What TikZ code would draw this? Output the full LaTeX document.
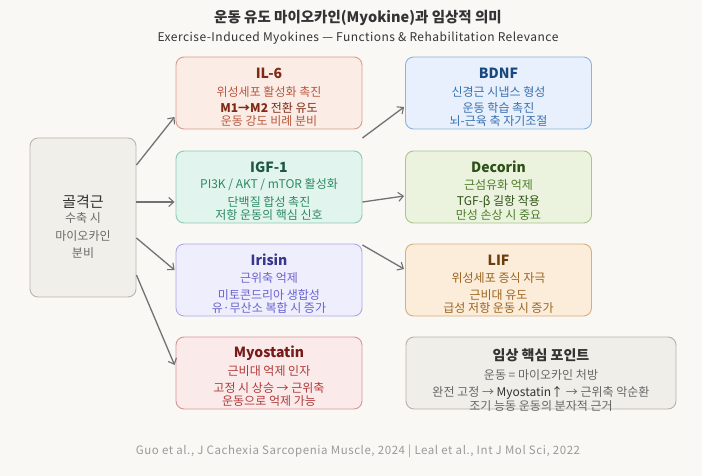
\documentclass[tikz,border=0pt]{standalone}
\usepackage{fontspec}
\setmainfont{Noto Sans CJK KR}
\usetikzlibrary{arrows.meta,calc}
\definecolor{bg}{HTML}{F9F8F5}
\definecolor{arr}{HTML}{727272}
\definecolor{mfill}{HTML}{F1EFE9}\definecolor{mdraw}{HTML}{B9B5AC}\definecolor{mtt}{HTML}{333333}\definecolor{mtx}{HTML}{6A6A6A}
\definecolor{afill}{HTML}{FBECE6}\definecolor{adraw}{HTML}{D99C8B}\definecolor{att}{HTML}{7E2A14}\definecolor{atx}{HTML}{B9573C}
\definecolor{bfill}{HTML}{E2F4EE}\definecolor{bdraw}{HTML}{8FCAB2}\definecolor{btt}{HTML}{1D5843}\definecolor{btx}{HTML}{2C8A62}
\definecolor{cfill}{HTML}{EEEEFC}\definecolor{cdraw}{HTML}{ABA8E8}\definecolor{ctt}{HTML}{3A368E}\definecolor{ctx}{HTML}{6963D0}
\definecolor{dfill}{HTML}{FBEAEA}\definecolor{ddraw}{HTML}{D99393}\definecolor{dtt}{HTML}{761A1A}\definecolor{dtx}{HTML}{B03A3A}
\definecolor{efill}{HTML}{E7F0FC}\definecolor{edraw}{HTML}{8CB3DE}\definecolor{ett}{HTML}{1B487C}\definecolor{etx}{HTML}{3A71B0}
\definecolor{ffill}{HTML}{EBF3DF}\definecolor{fdraw}{HTML}{A9C68B}\definecolor{ftt}{HTML}{2D5116}\definecolor{ftx}{HTML}{4E7D2A}
\definecolor{gfill}{HTML}{FBEDDA}\definecolor{gdraw}{HTML}{D7AF7B}\definecolor{gtt}{HTML}{6A3E0E}\definecolor{gtx}{HTML}{9B6420}
\definecolor{hfill}{HTML}{F0EEE9}\definecolor{hdraw}{HTML}{B6B2A9}\definecolor{htt}{HTML}{333333}\definecolor{htx}{HTML}{666666}
\definecolor{foot}{HTML}{9A9A9A}
\tikzset{
  boxnode/.style={rounded corners=8pt, line width=0.9pt, minimum width=186pt, minimum height=72pt, inner sep=0pt},
  ttl/.style={font=\fontsize{14}{16}\selectfont\bfseries, inner sep=0pt},
  bod/.style={font=\fontsize{12}{14}\selectfont, inner sep=0pt},
  conn/.style={draw=arr, line width=1.3pt, -{Straight Barb[length=5pt,width=9pt,line width=1.1pt]}},
}
\begin{document}
\begin{tikzpicture}[x=1pt,y=-1pt]
\fill[bg] (0,0) rectangle (702,476);
\useasboundingbox (0,0) rectangle (702,476);
% titles
\node[font=\fontsize{14.5}{17}\selectfont\bfseries, text=mtt, inner sep=0] (title) at (358,18) {운동 유도 마이오카인(Myokine)과 임상적 의미};
\node[font=\fontsize{12}{14}\selectfont\addfontfeature{LetterSpace=4}, text=mtt, inner sep=0] (subtitle) at (358,38) {Exercise-Induced Myokines — Functions \& Rehabilitation Relevance};
% left box
\node[boxnode, fill=mfill, draw=mdraw, minimum width=106pt, minimum height=159pt] (L) at (83,217.5) {};
\node[font=\fontsize{15}{17}\selectfont, text=mtt, inner sep=0] (Lt) at ($(L)+(0,-16)$) {골격근};
\node[bod, text=mtx] (L1) at ($(L)+(0,0.5)$) {수축 시};
\node[bod, text=mtx] (L2) at ($(L)+(0,18.5)$) {마이오카인};
\node[bod, text=mtx] (L3) at ($(L)+(0,35.5)$) {분비};
% IL-6
\node[boxnode, fill=afill, draw=adraw] (il6) at (269,93) {};
\node[ttl, text=att] (il6t) at ($(il6)+(0,-19.5)$) {IL-6};
\node[bod, text=atx] (il61) at ($(il6)+(0,-1.5)$) {위성세포 활성화 촉진};
\node[bod, text=att] (il62) at ($(il6)+(0,15)$) {\textbf{M1→M2} 전환 유도};
\node[bod, text=atx] (il63) at ($(il6)+(0,28)$) {운동 강도 비례 분비};
% IGF-1
\node[boxnode, fill=bfill, draw=bdraw] (igf) at (269,187) {};
\node[ttl, text=btt] (igft) at ($(igf)+(0,-20)$) {IGF-1};
\node[bod, text=btx] (igf1) at ($(igf)+(0,-2)$) {PI3K / AKT / mTOR 활성화};
\node[bod, text=btx] (igf2) at ($(igf)+(0,15)$) {단백질 합성 촉진};
\node[bod, text=btx] (igf3) at ($(igf)+(0,28)$) {저항 운동의 핵심 신호};
% Irisin
\node[boxnode, fill=cfill, draw=cdraw] (iri) at (269,280) {};
\node[ttl, text=ctt] (irit) at ($(iri)+(0,-20)$) {Irisin};
\node[bod, text=ctx] (iri1) at ($(iri)+(0,-2)$) {근위축 억제};
\node[bod, text=ctx] (iri2) at ($(iri)+(0,15)$) {미토콘드리아 생합성};
\node[bod, text=ctx] (iri3) at ($(iri)+(0,28)$) {유·무산소 복합 시 증가};
% Myostatin
\node[boxnode, fill=dfill, draw=ddraw] (myo) at (269,373) {};
\node[ttl, text=dtt] (myot) at ($(myo)+(0,-20)$) {Myostatin};
\node[bod, text=dtx] (myo1) at ($(myo)+(0,-2)$) {근비대 억제 인자};
\node[bod, text=dtx] (myo2) at ($(myo)+(0,15)$) {고정 시 상승 → 근위축};
\node[bod, text=dtx] (myo3) at ($(myo)+(0,28)$) {운동으로 억제 가능};
% BDNF
\node[boxnode, fill=efill, draw=edraw] (bdnf) at (498.5,93) {};
\node[ttl, text=ett] (bdnft) at ($(bdnf)+(0,-19.5)$) {BDNF};
\node[bod, text=etx] (bdnf1) at ($(bdnf)+(0,-1.5)$) {신경근 시냅스 형성};
\node[bod, text=etx] (bdnf2) at ($(bdnf)+(0,15)$) {운동 학습 촉진};
\node[bod, text=etx] (bdnf3) at ($(bdnf)+(0,28)$) {뇌-근육 축 자기조절};
% Decorin
\node[boxnode, fill=ffill, draw=fdraw] (dec) at (498.5,187) {};
\node[ttl, text=ftt] (dect) at ($(dec)+(0,-20)$) {Decorin};
\node[bod, text=ftx] (dec1) at ($(dec)+(0,-2)$) {근섬유화 억제};
\node[bod, text=ftt] (dec2) at ($(dec)+(0,15)$) {TGF-β 길항 작용};
\node[bod, text=ftx] (dec3) at ($(dec)+(0,28)$) {만성 손상 시 중요};
% LIF
\node[boxnode, fill=gfill, draw=gdraw] (lif) at (498.5,280) {};
\node[ttl, text=gtt] (lift) at ($(lif)+(0,-20)$) {LIF};
\node[bod, text=gtx] (lif1) at ($(lif)+(0,-2)$) {위성세포 증식 자극};
\node[bod, text=gtx] (lif2) at ($(lif)+(0,15)$) {근비대 유도};
\node[bod, text=gtx] (lif3) at ($(lif)+(0,28)$) {급성 저항 운동 시 증가};
% Clinical
\node[boxnode, fill=hfill, draw=hdraw, minimum width=270pt] (cli) at (541,373) {};
\node[ttl, text=htt] (clit) at ($(cli)+(0,-18)$) {임상 핵심 포인트};
\node[bod, text=htx] (cli1) at ($(cli)+(0,2)$) {운동 = 마이오카인 처방};
\node[bod, text=htx] (cli2) at ($(cli)+(0,20)$) {완전 고정 → {\color{mtt}Myostatin↑} → 근위축 악순환};
\node[bod, text=htx] (cli3) at ($(cli)+(0,33)$) {조기 능동 운동의 분자적 근거};
% footer
\node[font=\fontsize{11.5}{13}\selectfont\addfontfeature{LetterSpace=5}, text=foot, inner sep=0] (ref) at (358,451) {Guo et al., J Cachexia Sarcopenia Muscle, 2024 | Leal et al., Int J Mol Sci, 2022};
% connectors
\draw[conn] ($(L.east)+(0,-52.5)$) -- ($(il6.west)+(-1,24)$);
\draw[conn] ($(L.east)+(0,-15.5)$) -- ($(igf.west)+(-1,15)$);
\draw[conn] ($(L.east)+(0,20.5)$) -- ($(iri.west)+(-1,-10)$);
\draw[conn] ($(L.east)+(0,57.5)$) -- ($(myo.west)+(-1,-8)$);
\draw[conn] ($(il6.east)+(0,45)$) -- ($(bdnf.west)+(-1,14)$);
\draw[conn] ($(igf.east)+(0,15)$) -- ($(dec.west)+(-1,9)$);
\draw[conn] ($(iri.east)+(0,-35)$) -- ($(lif.west)+(-1,-11)$);
\end{tikzpicture}
\end{document}
